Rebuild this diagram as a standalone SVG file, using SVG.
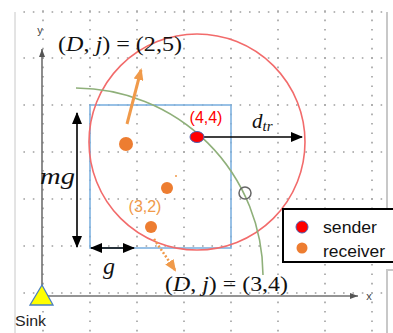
<svg xmlns="http://www.w3.org/2000/svg" width="393" height="333" viewBox="0 0 393 333">
<style>
.grid{stroke:#a0a0a0;stroke-width:1.6;stroke-dasharray:1.6 7.8;fill:none}
.math{font-family:"Liberation Serif","DejaVu Serif",serif;fill:#111}
.it{font-style:italic}
.sans{font-family:"Liberation Sans","DejaVu Sans",sans-serif}
.ax{stroke:#707070;stroke-width:1.6;fill:none}
.blk{stroke:#000;stroke-width:1.6;fill:none}
</style>
<defs>
<marker id="ah" markerUnits="userSpaceOnUse" markerWidth="12" markerHeight="10" refX="11" refY="5" orient="auto-start-reverse"><path d="M0,0 L12,5 L0,10 z" fill="#000"/></marker>
<marker id="ahs" markerUnits="userSpaceOnUse" markerWidth="8" markerHeight="6" refX="8" refY="3" orient="auto"><path d="M0,0 L8,3 L0,6 z" fill="#555"/></marker>
<marker id="aho" markerUnits="userSpaceOnUse" markerWidth="12" markerHeight="10" refX="10" refY="5" orient="auto"><path d="M0,0 L12,5 L0,10 z" fill="#f09a4a"/></marker>
</defs>
<rect width="393" height="333" fill="#fff"/>
<g id="grid">
<line class="grid" x1="23.4" y1="12" x2="386" y2="12"/>
<line class="grid" x1="23.4" y1="58" x2="386" y2="58"/>
<line class="grid" x1="23.4" y1="105" x2="386" y2="105"/>
<line class="grid" x1="23.4" y1="152" x2="386" y2="152"/>
<line class="grid" x1="23.4" y1="199" x2="386" y2="199"/>
<line class="grid" x1="23.4" y1="246" x2="386" y2="246"/>
<line class="grid" x1="23.4" y1="293" x2="386" y2="293"/>
<line class="grid" x1="43" y1="10.2" x2="43" y2="333"/>
<line class="grid" x1="90" y1="10.2" x2="90" y2="333"/>
<line class="grid" x1="137" y1="10.2" x2="137" y2="333"/>
<line class="grid" x1="184" y1="10.2" x2="184" y2="333"/>
<line class="grid" x1="231" y1="10.2" x2="231" y2="333"/>
<line class="grid" x1="278" y1="10.2" x2="278" y2="333"/>
<line class="grid" x1="325" y1="10.2" x2="325" y2="333"/>
<line class="grid" x1="372" y1="10.2" x2="372" y2="333"/>
<line x1="15" y1="12" x2="15" y2="333" stroke="#c8c8c8" stroke-width="1"/>
<line x1="387" y1="12" x2="387" y2="209" stroke="#c8c8c8" stroke-width="2"/>
<path d="M387,333 V270 H393" stroke="#c8c8c8" stroke-width="2" fill="none"/>
</g>
<g id="axes">
<line class="ax" x1="42" y1="296" x2="42" y2="49" marker-end="url(#ahs)"/>
<line class="ax" x1="42" y1="296" x2="358" y2="296" marker-end="url(#ahs)"/>
<text class="sans" x="40" y="34" font-size="11" text-anchor="middle" fill="#444">y</text>
<text class="sans" x="369" y="300" font-size="11" text-anchor="middle" fill="#444">x</text>
</g>
<g id="cell">
<rect x="90" y="105" width="141" height="143" fill="none" stroke="#7fb2e0" stroke-width="1.6"/>
</g>
<g id="range">
<circle cx="197" cy="142" r="108" fill="none" stroke="#f26b6b" stroke-width="1.6"/>
</g>
<g id="arc">
<path d="M76,88 A188,188 0 0 1 263,275" fill="none" stroke="#8fb07a" stroke-width="1.6"/>
</g>
<g id="connectors">
<line class="blk" x1="77" y1="113" x2="77" y2="247" marker-start="url(#ah)" marker-end="url(#ah)"/>
<line class="blk" x1="91" y1="248" x2="134" y2="248" marker-start="url(#ah)" marker-end="url(#ah)"/>
<line class="blk" x1="204" y1="137" x2="302" y2="137" marker-end="url(#ah)"/>
<line x1="127" y1="124" x2="141" y2="70" stroke="#f09a4a" stroke-width="3" marker-end="url(#aho)"/>
<line x1="154" y1="239" x2="175" y2="270" stroke="#f09a4a" stroke-width="2.5" stroke-dasharray="2 2" marker-end="url(#aho)"/>
</g>
<g id="sender">
<ellipse cx="197" cy="137" rx="7" ry="5.5" fill="#f00" stroke="#5060b0" stroke-width="1"/>
<text class="sans" x="206" y="123" font-size="16" text-anchor="middle" fill="#f00">(4,4)</text>
</g>
<g id="receivers">
<circle cx="126" cy="144" r="7" fill="#ed7d31"/>
<circle cx="167" cy="188" r="6" fill="#ed7d31"/>
<circle cx="151" cy="227" r="6" fill="#ed7d31"/>
<circle cx="176" cy="176" r="1" fill="#f09a4a"/>
<text class="sans" x="145" y="212" font-size="16" text-anchor="middle" fill="#f09a4a">(3,2)</text>
</g>
<g id="marker-circle">
<circle cx="245" cy="193" r="6" fill="none" stroke="#666" stroke-width="1.5"/>
</g>
<g id="labels">
<text class="math" x="58" y="51" font-size="21" textLength="124" lengthAdjust="spacingAndGlyphs">(<tspan class="it">D</tspan>, <tspan class="it">j</tspan>) = (2,5)</text>
<text class="math" x="165" y="291" font-size="21" textLength="123" lengthAdjust="spacingAndGlyphs">(<tspan class="it">D</tspan>, <tspan class="it">j</tspan>) = (3,4)</text>
<text class="math it" x="40" y="184" font-size="24" textLength="35" lengthAdjust="spacingAndGlyphs">mg</text>
<text class="math it" x="103" y="274" font-size="24">g</text>
<text class="math it" x="252" y="128" font-size="21">d<tspan font-size="15" dy="3">tr</tspan></text>
</g>
<g id="sink">
<path d="M42,285 L30,305 L53,305 z" fill="#ffff00" stroke="#4a7fc0" stroke-width="1.3"/>
<text class="sans" x="15" y="326" font-size="15" textLength="31" lengthAdjust="spacingAndGlyphs" fill="#222">Sink</text>
</g>
<g id="legend">
<rect x="283" y="209" width="120" height="53" fill="#fff" stroke="#000" stroke-width="2"/>
<circle cx="302" cy="227" r="6" fill="#f00" stroke="#5060b0" stroke-width="1"/>
<circle cx="302" cy="248" r="5.5" fill="#ed7d31"/>
<text class="sans" x="323" y="233" font-size="16" textLength="54" lengthAdjust="spacingAndGlyphs" fill="#111">sender</text>
<text class="sans" x="323" y="257" font-size="16" textLength="62" lengthAdjust="spacingAndGlyphs" fill="#111">receiver</text>
</g>
</svg>
